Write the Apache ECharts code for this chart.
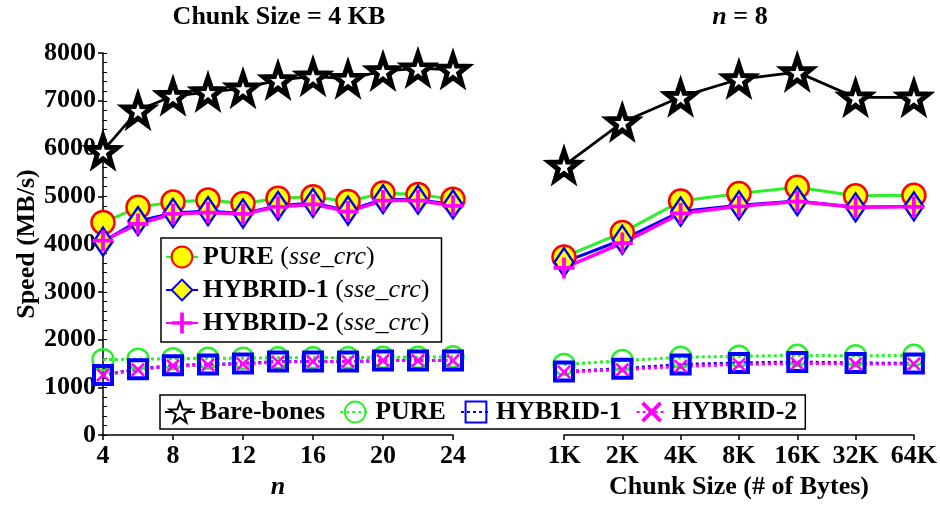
<!DOCTYPE html>
<html>
<head>
<meta charset="utf-8">
<script src="https://cdn.jsdelivr.net/npm/echarts@6/dist/echarts.min.js"></script>
<style>html,body{margin:0;padding:0;background:#fff}#c{width:940px;height:505px}</style>
</head>
<body>
<div id="c"></div>
<script>
// ---- data ----
var nValues = [4, 6, 8, 10, 12, 14, 16, 18, 20, 22, 24];
var chunkCats = ['1K', '2K', '4K', '8K', '16K', '32K', '64K'];
var yTicks = [0, 1000, 2000, 3000, 4000, 5000, 6000, 7000, 8000];

// left panel (chunk size = 4 KB), vs n
var bareL     = [5950, 6800, 7100, 7180, 7260, 7430, 7510, 7460, 7620, 7680, 7650];
var pureSseL  = [4450, 4770, 4880, 4920, 4850, 4960, 4990, 4890, 5070, 5040, 4940];
var hyb1SseL  = [4050, 4480, 4650, 4690, 4640, 4800, 4860, 4700, 4940, 4930, 4830];
var hyb2SseL  = [4070, 4420, 4630, 4660, 4630, 4780, 4830, 4680, 4910, 4910, 4800];
var pureL     = [1580, 1590, 1600, 1610, 1610, 1620, 1620, 1620, 1630, 1630, 1640];
var hyb1L     = [1260, 1380, 1460, 1480, 1500, 1540, 1540, 1540, 1560, 1560, 1560];
var hyb2L     = [1260, 1370, 1450, 1470, 1490, 1530, 1540, 1540, 1560, 1560, 1560];

// right panel (n = 8), vs chunk size
var bareR     = [5640, 6550, 7080, 7450, 7600, 7070, 7070];
var pureSseR  = [3730, 4240, 4900, 5060, 5190, 5010, 5020];
var hyb1SseR  = [3620, 4090, 4680, 4810, 4900, 4770, 4790];
var hyb2SseR  = [3500, 4020, 4640, 4790, 4890, 4770, 4780];
var pureR     = [1480, 1560, 1630, 1650, 1670, 1660, 1670];
var hyb1R     = [1330, 1390, 1480, 1510, 1530, 1510, 1500];
var hyb2R     = [1320, 1370, 1440, 1480, 1500, 1490, 1490];

// ---- styles ----
var FONT = 'Liberation Serif';
var STAR = 'path://M50,0 L61.76,33.82 L97.55,34.55 L69.02,56.18 L79.39,90.45 L50,70 L20.61,90.45 L30.98,56.18 L2.45,34.55 L38.24,33.82 Z';
var PLUS = 'path://M4.1,0 L5.9,0 L5.9,4.1 L10,4.1 L10,5.9 L5.9,5.9 L5.9,10 L4.1,10 L4.1,5.9 L0,5.9 L0,4.1 L4.1,4.1 Z';
var CROSS = 'path://M0,1.3 L1.3,0 L5,3.7 L8.7,0 L10,1.3 L6.3,5 L10,8.7 L8.7,10 L5,6.3 L1.3,10 L0,8.7 L3.7,5 Z';
var GREEN = '#2cf02c', BLUE = '#0000ff', MAG = '#ff00ff', RED = '#ff0000', YEL = '#ffff00';

var styles = {
  'Bare-bones': {
    symbol: STAR, symbolSize: 29,
    itemStyle: {color: '#ffffff', borderColor: '#000', borderWidth: 5},
    lineStyle: {color: '#000', width: 2.8}
  },
  'PURE (sse_crc)': {
    symbol: 'circle', symbolSize: 23,
    itemStyle: {color: YEL, borderColor: RED, borderWidth: 2.5},
    lineStyle: {color: GREEN, width: 3}
  },
  'HYBRID-1 (sse_crc)': {
    symbol: 'diamond', symbolSize: [19, 28],
    itemStyle: {color: YEL, borderColor: BLUE, borderWidth: 2.5},
    lineStyle: {color: BLUE, width: 3}
  },
  'HYBRID-2 (sse_crc)': {
    symbol: PLUS, symbolSize: 21,
    itemStyle: {color: MAG, borderWidth: 0},
    lineStyle: {color: MAG, width: 3.5}
  },
  'PURE': {
    symbol: 'circle', symbolSize: 21,
    itemStyle: {color: 'rgba(0,0,0,0)', borderColor: GREEN, borderWidth: 2.5},
    lineStyle: {color: GREEN, width: 3, type: [3, 3]}
  },
  'HYBRID-1': {
    symbol: 'rect', symbolSize: 18,
    itemStyle: {color: 'rgba(0,0,0,0)', borderColor: BLUE, borderWidth: 4},
    lineStyle: {color: BLUE, width: 3, type: [3, 3]}
  },
  'HYBRID-2': {
    symbol: CROSS, symbolSize: 14,
    itemStyle: {color: MAG, borderWidth: 0},
    lineStyle: {color: MAG, width: 3, type: [3, 3]}
  }
};

function pairs(xs, ys) { return xs.map(function (x, i) { return [x, ys[i]]; }); }

function mk(name, idx, data) {
  var s = styles[name];
  return {
    name: name, type: 'line', xAxisIndex: idx, yAxisIndex: idx === 0 ? 0 : 2,
    data: data, symbol: s.symbol, symbolSize: s.symbolSize, symbolKeepAspect: false,
    itemStyle: s.itemStyle, lineStyle: s.lineStyle, showSymbol: true, silent: true
  };
}

var series = [
  mk('PURE', 0, pairs(nValues, pureL)),
  mk('HYBRID-1', 0, pairs(nValues, hyb1L)),
  mk('HYBRID-2', 0, pairs(nValues, hyb2L)),
  mk('PURE (sse_crc)', 0, pairs(nValues, pureSseL)),
  mk('HYBRID-1 (sse_crc)', 0, pairs(nValues, hyb1SseL)),
  mk('HYBRID-2 (sse_crc)', 0, pairs(nValues, hyb2SseL)),
  mk('Bare-bones', 0, pairs(nValues, bareL)),
  mk('PURE', 1, pureR),
  mk('HYBRID-1', 1, hyb1R),
  mk('HYBRID-2', 1, hyb2R),
  mk('PURE (sse_crc)', 1, pureSseR),
  mk('HYBRID-1 (sse_crc)', 1, hyb1SseR),
  mk('HYBRID-2 (sse_crc)', 1, hyb2SseR),
  mk('Bare-bones', 1, bareR)
];

var lblStyle = {fontFamily: FONT, fontWeight: 'bold', fontSize: 26, color: '#000'};
var axLine = {show: true, lineStyle: {color: '#000', width: 1.5}};

var chart = echarts.init(document.getElementById('c'), null, {renderer: 'canvas'});
chart.setOption({
  animation: false,
  backgroundColor: '#fff',
  title: [
    {text: 'Chunk Size = 4 KB', left: 279, top: 4, padding: 0, textAlign: 'center',
     textStyle: {fontFamily: FONT, fontWeight: 'bold', fontSize: 26, color: '#000'}},
    {text: '{i|n} = 8', left: 740, top: 4, padding: 0, textAlign: 'center',
     textStyle: {fontFamily: FONT, fontWeight: 'bold', fontSize: 26, color: '#000',
       rich: {i: {fontFamily: FONT, fontWeight: 'bold', fontStyle: 'italic', fontSize: 26, color: '#000'}}}}
  ],
  grid: [
    {left: 103, top: 53, width: 350, height: 392},
    {left: 564, top: 53, width: 352, height: 392}
  ],
  xAxis: [
    {type: 'value', gridIndex: 0, min: 4, max: 24, interval: 4,
     axisLine: axLine, axisTick: {show: true, length: 5, lineStyle: {color: '#000', width: 1.5}},
     splitLine: {show: false}, axisLabel: Object.assign({margin: 8}, lblStyle),
     name: 'n', nameLocation: 'middle', nameGap: 31,
     nameTextStyle: {fontFamily: FONT, fontWeight: 'bold', fontStyle: 'italic', fontSize: 26, color: '#000'}},
    {type: 'category', gridIndex: 1, data: chunkCats, boundaryGap: false,
     axisLine: axLine, axisTick: {show: true, length: 5, alignWithLabel: true, lineStyle: {color: '#000', width: 1.5}},
     splitLine: {show: false}, axisLabel: Object.assign({margin: 8, interval: 0}, lblStyle),
     name: 'Chunk Size (# of Bytes)', nameLocation: 'middle', nameGap: 31,
     nameTextStyle: {fontFamily: FONT, fontWeight: 'bold', fontSize: 26, color: '#000'}}
  ],
  yAxis: [
    {type: 'value', gridIndex: 0, position: 'left', min: yTicks[0], max: yTicks[yTicks.length - 1], interval: 1000,
     axisLine: axLine, axisTick: {show: true, length: 5, lineStyle: {color: '#000', width: 1.5}},
     splitLine: {show: false},
     axisLabel: Object.assign({margin: 7, formatter: function (v) { return String(v); }}, lblStyle),
     name: 'Speed (MB/s)', nameLocation: 'middle', nameGap: 58,
     nameTextStyle: {fontFamily: FONT, fontWeight: 'bold', fontSize: 26, color: '#000'}},
    {type: 'value', gridIndex: 0, position: 'left', offset: 0, min: 0, max: 8000, interval: 200,
     axisLine: {show: false}, axisLabel: {show: false}, splitLine: {show: false},
     axisTick: {show: true, inside: true, length: 4, lineStyle: {color: '#000', width: 1}}},
    {type: 'value', gridIndex: 1, min: 0, max: 8000, interval: 1000, show: false}
  ],
  legend: [
    {data: ['PURE (sse_crc)', 'HYBRID-1 (sse_crc)', 'HYBRID-2 (sse_crc)'],
     orient: 'vertical', left: 161, top: 238, selectedMode: false,
     backgroundColor: '#fff', borderColor: '#000', borderWidth: 1.5, borderRadius: 0,
     padding: [6, 12, 6, 4], itemWidth: 32, itemHeight: 26, itemGap: 7, itemTextGap: 4,
     formatter: function (name) {
       return name.replace(' (sse_crc)', '') + ' {r|(}{i|sse_crc}{r|)}';
     },
     textStyle: {fontFamily: FONT, fontWeight: 'bold', fontSize: 26, color: '#000',
       rich: {
         r: {fontFamily: FONT, fontWeight: 'normal', fontSize: 26, color: '#000'},
         i: {fontFamily: FONT, fontWeight: 'normal', fontStyle: 'italic', fontSize: 26, color: '#000'}
       }}},
    {data: ['Bare-bones', 'PURE', 'HYBRID-1', 'HYBRID-2'],
     orient: 'horizontal', left: 160, top: 395, selectedMode: false,
     backgroundColor: '#fff', borderColor: '#000', borderWidth: 1.5, borderRadius: 0,
     padding: [4, 8, 4, 4], itemWidth: 30, itemHeight: 26, itemGap: 14, itemTextGap: 3,
     textStyle: {fontFamily: FONT, fontWeight: 'bold', fontSize: 26, color: '#000'}}
  ],
  series: series
});
</script>
</body>
</html>
